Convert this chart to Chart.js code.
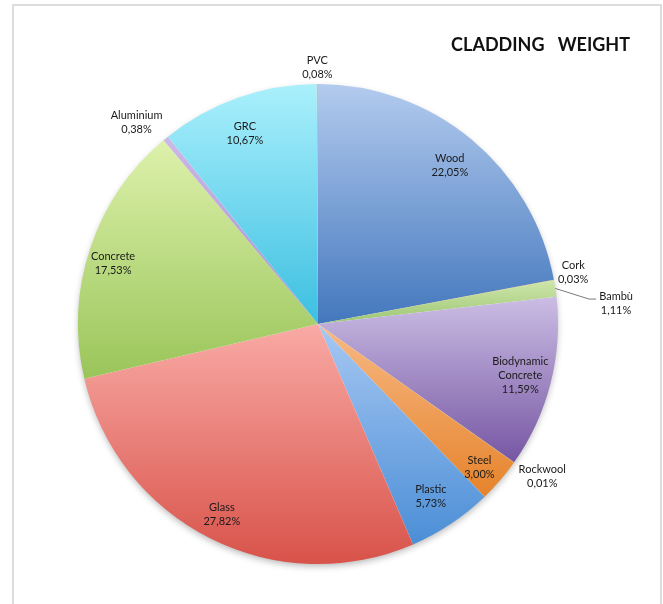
<!DOCTYPE html>
<html lang="en">

<head>
    <meta charset="UTF-8">
    <meta name="viewport" content="width=device-width, initial-scale=1">
    <title>Cladding Weight</title>
    <script src="https://cdn.jsdelivr.net/npm/chart.js@4.4.0/dist/chart.umd.min.js"></script>
    <style>
        html, body { margin: 0; padding: 0; overflow: hidden; background: #fff; }
        #frame { position: absolute; left: 12px; top: 4px; width: 650px; height: 640px; border: 2px solid #dcdcdc; box-sizing: border-box; }
        #wrap { position: absolute; left: 0; top: 0; width: 663px; height: 604px; }
    </style>
</head>

<body>
    <div id="frame"></div>
    <div id="wrap"><canvas id="chart"></canvas></div>
    <script>

        // Slices go clockwise from 12 o'clock
        const materials = ["Wood", "Cork", "Bambù", "Biodynamic Concrete", "Rockwool", "Steel", "Plastic", "Glass", "Concrete", "Aluminium", "GRC", "PVC"];
        const weights = [22.05, 0.03, 1.11, 11.59, 0.01, 3.00, 5.73, 27.82, 17.53, 0.38, 10.67, 0.08];
        const labelLines = [["Wood"], ["Cork"], ["Bambù"], ["Biodynamic", "Concrete"], ["Rockwool"], ["Steel"], ["Plastic"], ["Glass"], ["Concrete"], ["Aluminium"], ["GRC"], ["PVC"]];

        // gradient colours, light (top of slice) to dark (bottom of slice)
        const topColors = ["#b3cbee", "#c9a36b", "#cfe6ab", "#cbbde4", "#7fc9c0", "#f8b985", "#a7c8f3", "#f9aaa5", "#ddf1ab", "#cdb9e6", "#aaf0fc", "#f6b878"];
        const bottomColors = ["#4377bd", "#a57a3d", "#9cc672", "#7656a3", "#3e9c90", "#e5832b", "#4b8ed6", "#d8534a", "#9ac55a", "#a48fce", "#3cbfe1", "#e58a35"];

        // label placement: fraction of radius and small angle shift (degrees)
        const labelRadius = [0.86, 1.085, 1.245, 0.87, 1.13, 0.9, 0.86, 0.89, 0.89, 1.13, 0.85, 1.07];
        const labelShift = [0, -0.9, 4.5, 0, -1, 1, 0.5, 0, -2, -2.6, -1.5, 0];

        const fmt = v => v.toFixed(2).replace(".", ",") + "%";

        const gradientPlugin = {
            id: "gradientFill",
            beforeDatasetsDraw(chart) {
                const ctx = chart.ctx;
                const arcs = chart.getDatasetMeta(0).data;
                // soft shadow under the whole pie
                const a0 = arcs[0];
                ctx.save();
                ctx.shadowColor = "rgba(0,0,0,0.3)";
                ctx.shadowBlur = 7;
                ctx.shadowOffsetY = 3;
                ctx.beginPath();
                ctx.arc(a0.x, a0.y, a0.outerRadius - 1, 0, Math.PI * 2);
                ctx.fillStyle = "#ffffff";
                ctx.fill();
                ctx.restore();

                arcs.forEach((el, i) => {
                    let minY = el.y, maxY = el.y;
                    for (let k = 0; k <= 40; k++) {
                        const a = el.startAngle + (el.endAngle - el.startAngle) * k / 40;
                        const y = el.y + Math.sin(a) * el.outerRadius;
                        minY = Math.min(minY, y);
                        maxY = Math.max(maxY, y);
                    }
                    if (maxY - minY < 2) maxY = minY + 2;
                    const g = ctx.createLinearGradient(0, minY, 0, maxY);
                    g.addColorStop(0, topColors[i]);
                    g.addColorStop(1, bottomColors[i]);
                    if (Object.isFrozen(el.options)) {
                        el.options = Object.assign({}, el.options, { backgroundColor: g });
                    } else {
                        el.options.backgroundColor = g;
                    }
                });
            },
            afterDatasetsDraw(chart) {
                const ctx = chart.ctx;
                const arcs = chart.getDatasetMeta(0).data;
                ctx.save();
                ctx.font = "11px Lato";
                ctx.fillStyle = "#1a1a1a";
                ctx.textAlign = "center";
                ctx.textBaseline = "middle";
                arcs.forEach((el, i) => {
                    const mid = (el.startAngle + el.endAngle) / 2 + labelShift[i] * Math.PI / 180;
                    const r = el.outerRadius * labelRadius[i];
                    const x = el.x + Math.cos(mid) * r;
                    const y = el.y + Math.sin(mid) * r;
                    const lines = labelLines[i].concat([fmt(weights[i])]);
                    const lh = 14;
                    const y0 = y - (lines.length - 1) * lh / 2;
                    lines.forEach((t, j) => ctx.fillText(t, x, y0 + j * lh));

                    // leader line for Bambù label
                    if (materials[i] === "Bambù") {
                        const m = (el.startAngle + el.endAngle) / 2;
                        const w = ctx.measureText(lines[0]).width;
                        ctx.strokeStyle = "#7a7a7a";
                        ctx.lineWidth = 1;
                        ctx.beginPath();
                        ctx.moveTo(el.x + Math.cos(m) * el.outerRadius, el.y + Math.sin(m) * el.outerRadius);
                        ctx.lineTo(x - w / 2 - 10, y - 4);
                        ctx.lineTo(x - w / 2 - 3, y - 4);
                        ctx.stroke();
                    }
                });

                // title
                ctx.font = "bold 18px Lato";
                ctx.fillStyle = "#111111";
                ctx.textAlign = "right";
                ctx.textBaseline = "middle";
                ctx.fillText("CLADDING   WEIGHT", 630, 45);
                ctx.restore();
            }
        };

        const ctx = document.getElementById("chart").getContext("2d");
        const myChart = new Chart(ctx, {
            type: "pie",
            data: {
                labels: materials,
                datasets: [{
                    data: weights,
                    backgroundColor: bottomColors,
                    borderWidth: 0
                }]
            },
            options: {
                responsive: true,
                maintainAspectRatio: false,
                animation: false,
                layout: { padding: { left: 78, right: 105, top: 84, bottom: 40 } },
                plugins: {
                    legend: { display: false },
                    tooltip: { enabled: false },
                    title: { display: false }
                }
            },
            plugins: [gradientPlugin]
        });

    </script>
</body>

</html>
